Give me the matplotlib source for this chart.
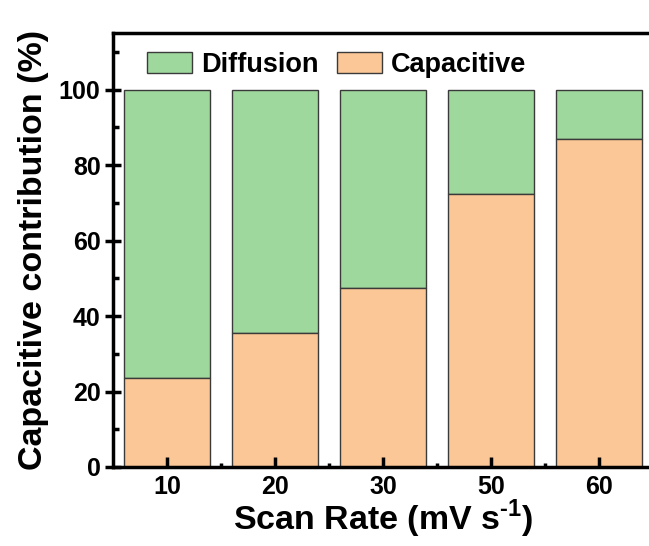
import numpy as np
from matplotlib import pyplot as plt
from matplotlib.ticker import MultipleLocator, FixedLocator

scan_rates = ['10', '20', '30', '50', '60']
capacitive = [23.7, 35.6, 47.5, 72.4, 86.8]
diffusion = [100 - c for c in capacitive]

plt.rcParams['font.family'] = ['Liberation Sans', 'DejaVu Sans']
plt.rcParams['font.weight'] = 'bold'
plt.rcParams['mathtext.fontset'] = 'custom'
plt.rcParams['mathtext.rm'] = 'Liberation Sans:bold'
plt.rcParams['mathtext.bf'] = 'Liberation Sans:bold'

fig = plt.figure(figsize=(6.49, 5.46), dpi=100)
ax = fig.add_axes([113 / 649, 79 / 546, 540 / 649, 434 / 546])

x = np.arange(len(scan_rates))
ax.bar(x, diffusion, bottom=capacitive, width=0.8, color='#9fd89d',
       edgecolor='#3a3a3a', linewidth=1, label='Diffusion')
ax.bar(x, capacitive, width=0.8, color='#fbc797',
       edgecolor='#3a3a3a', linewidth=1, label='Capacitive')

ax.set_xlim(-0.5, 4.5)
ax.set_ylim(0, 115)
ax.set_xticks(x)
ax.set_xticklabels(scan_rates)
ax.xaxis.set_minor_locator(FixedLocator(x[:-1] + 0.5))
ax.set_yticks([0, 20, 40, 60, 80, 100])
ax.yaxis.set_minor_locator(MultipleLocator(10))

for s in ax.spines.values():
    s.set_linewidth(2.5)
ax.tick_params(axis='x', which='major', direction='in', length=7, width=2.5, labelsize=18, pad=6)
ax.tick_params(axis='x', which='minor', direction='in', length=3, width=2.5)
ax.tick_params(axis='y', which='major', direction='inout', length=12, width=2.5, labelsize=18, pad=3)
ax.tick_params(axis='y', which='minor', direction='in', length=4, width=2.5)

ax.set_xlabel('Scan Rate (mV s$^{\\text{-1}}$)', fontsize=24.5, fontweight='bold', labelpad=-1)
ax.set_ylabel('Capacitive contribution (%)', fontsize=24.5, fontweight='bold', labelpad=7)

ax.legend(loc='upper left', ncol=2, frameon=False, fontsize=19.5,
          bbox_to_anchor=(34 / 540, 1 - 19 / 434), borderpad=0, borderaxespad=0,
          handlelength=1.66, handleheight=0.81,
          columnspacing=0.7, handletextpad=0.33)

fig.savefig('out.png', dpi=100)
